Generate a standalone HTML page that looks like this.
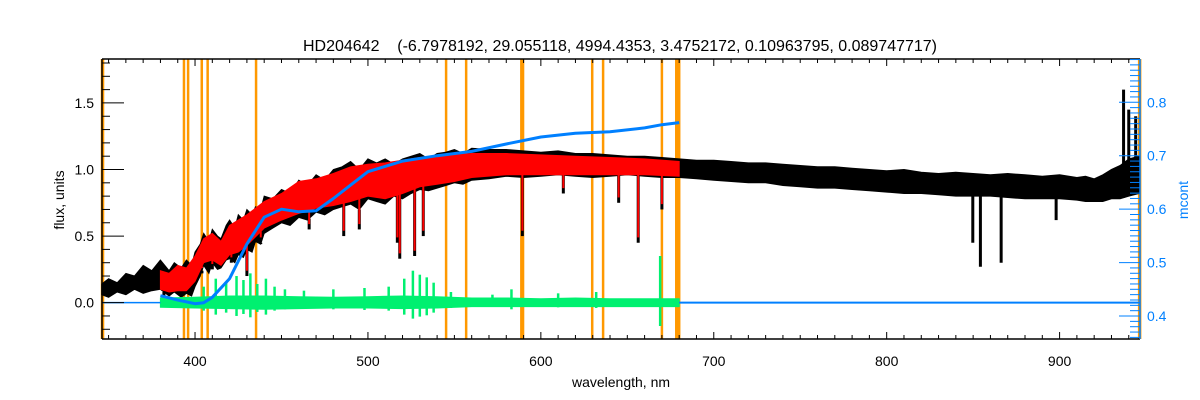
<!DOCTYPE html>
<html><head><meta charset="utf-8"><style>
html,body{margin:0;padding:0;background:#fff;}
svg{display:block;font-family:"Liberation Sans",sans-serif;}
</style></head><body>
<svg id="chart" width="1200" height="400" viewBox="0 0 1200 400"></svg>
<script>
// ---- data ----
const obsWave  = [346,350,355,360,365,370,375,380,385,388,392,395,398,400,403,405,408,410,413,415,418,420,423,425,428,430,433,435,438,440,445,450,455,460,465,470,475,480,485,490,495,500,505,510,515,520,525,530,535,540,545,550,555,560,570,580,590,600,610,620,630,640,650,660,670,680,690,700,710,720,730,740,750,760,770,780,790,800,810,820,830,840,850,860,870,880,890,900,910,915,920,925,930,935,940,946];
const obsLow   = [0.06,0.04,0.08,0.06,0.10,0.07,0.09,0.10,0.05,0.08,0.04,0.07,0.05,0.12,0.20,0.28,0.22,0.30,0.25,0.26,0.32,0.33,0.30,0.36,0.34,0.40,0.38,0.46,0.44,0.52,0.56,0.60,0.58,0.64,0.62,0.68,0.66,0.70,0.72,0.74,0.70,0.78,0.76,0.74,0.80,0.78,0.82,0.85,0.84,0.86,0.88,0.90,0.89,0.92,0.93,0.95,0.94,0.95,0.96,0.95,0.94,0.95,0.96,0.95,0.94,0.94,0.93,0.92,0.91,0.90,0.90,0.88,0.87,0.86,0.86,0.85,0.84,0.83,0.82,0.82,0.81,0.80,0.80,0.80,0.79,0.78,0.78,0.78,0.77,0.76,0.76,0.76,0.78,0.78,0.80,0.82];
const obsHigh  = [0.14,0.18,0.15,0.22,0.20,0.28,0.24,0.32,0.24,0.30,0.26,0.32,0.28,0.38,0.44,0.52,0.46,0.55,0.50,0.48,0.58,0.62,0.56,0.66,0.62,0.70,0.66,0.72,0.70,0.80,0.78,0.85,0.82,0.92,0.88,0.96,0.92,1.00,1.02,1.06,1.00,1.08,1.05,1.08,1.04,1.08,1.10,1.12,1.08,1.12,1.13,1.15,1.12,1.16,1.15,1.15,1.14,1.13,1.14,1.12,1.12,1.11,1.10,1.10,1.09,1.08,1.07,1.07,1.06,1.05,1.05,1.04,1.03,1.02,1.02,1.01,1.00,0.99,1.00,0.98,0.97,0.98,0.97,0.96,0.97,0.96,0.95,0.96,0.94,0.95,0.93,0.96,1.00,1.03,1.08,1.10];
const lineWave = [382,393.4,396.8,404,410,421,430,438,466,486,495,517,518.4,527,532,589.3,613,645,656.3,670,849.8,854.2,866.2,898,937,940,944];
const lineFlux = [0.05,0.08,0.08,0.22,0.25,0.3,0.2,0.45,0.55,0.5,0.55,0.45,0.33,0.35,0.5,0.5,0.82,0.75,0.45,0.7,0.45,0.27,0.3,0.62,1.60,1.45,1.40];
const modWave  = [380,385,390,395,400,405,410,415,420,425,430,440,450,460,470,480,490,500,510,520,530,540,550,560,580,600,620,640,660,680];
const modLow   = [0.10,0.08,0.09,0.09,0.16,0.30,0.32,0.28,0.36,0.38,0.43,0.56,0.62,0.67,0.71,0.73,0.76,0.80,0.78,0.82,0.87,0.89,0.91,0.94,0.96,0.96,0.96,0.96,0.96,0.95];
const modHigh  = [0.24,0.22,0.28,0.26,0.35,0.48,0.52,0.46,0.58,0.62,0.66,0.76,0.82,0.91,0.93,0.97,1.02,1.04,1.05,1.07,1.09,1.10,1.11,1.12,1.12,1.11,1.10,1.09,1.08,1.06];
const resWave  = [380,400,420,440,460,480,500,520,540,560,580,600,620,640,660,680];
const resHigh  = [0.035,0.04,0.05,0.05,0.045,0.04,0.045,0.05,0.045,0.035,0.035,0.03,0.035,0.03,0.03,0.03];
const resLow   = [-0.035,-0.04,-0.045,-0.05,-0.045,-0.04,-0.04,-0.045,-0.04,-0.03,-0.03,-0.03,-0.03,-0.03,-0.03,-0.03];
const spikeWave= [405,412,418,424,428,432,436,441,446,452,463,480,498,512,521,526,530,534,538,548,572,583,610,632,669];
const spikeVal = [0.12,0.18,0.15,0.20,0.17,0.22,0.14,0.18,0.12,0.10,0.09,0.10,0.11,0.12,0.18,0.24,0.21,0.19,0.15,0.08,0.06,0.10,0.07,0.08,0.35];
const contWave = [380,390,400,405,410,420,430,440,450,460,470,480,490,500,520,540,560,580,600,620,640,660,670,680];
const contVal  = [0.438,0.430,0.423,0.425,0.435,0.470,0.535,0.585,0.600,0.595,0.597,0.620,0.645,0.670,0.690,0.700,0.708,0.722,0.735,0.742,0.745,0.752,0.758,0.762];
const maskWave = [346.5,393.6,396.0,403.9,407.3,435.3,545.2,556.8,589.0,589.7,629.7,636.0,670.0,678.6,680.0,946.3];
const xTicks   = [400,500,600,700,800,900];
const yTicks   = [0.0,0.5,1.0,1.5];
const y2Ticks  = [0.4,0.5,0.6,0.7,0.8];
// ---- scales ----
const L=102,R=1140,T=59,B=339;
const X=w=>L+(w-346.2)/(946.5-346.2)*(R-L);
const Y=f=>B-(f+0.273)/(1.83+0.273)*(B-T);
const Y2=v=>B-(v-0.357)/(0.881-0.357)*(B-T);
const svg=document.getElementById('chart');
const NS='http://www.w3.org/2000/svg';
function mk(tag,attrs,parent){const e=document.createElementNS(NS,tag);for(const k in attrs)e.setAttribute(k,attrs[k]);(parent||svg).appendChild(e);return e;}
function interp(xs,ys,x){if(x<=xs[0])return ys[0];for(let i=1;i<xs.length;i++){if(x<=xs[i]){const t=(x-xs[i-1])/(xs[i]-xs[i-1]);return ys[i-1]+t*(ys[i]-ys[i-1]);}}return ys[ys.length-1];}
function band(ws,lo,hi,color,name,Yf){
  let d='M'+ws.map((w,i)=>X(w).toFixed(1)+','+Yf(hi[i]).toFixed(1)).join('L');
  for(let i=ws.length-1;i>=0;i--)d+='L'+X(ws[i]).toFixed(1)+','+Yf(lo[i]).toFixed(1);
  const p=mk('path',{d:d+'Z',fill:color,stroke:color,'stroke-width':1});
  
  
  return p;
}
// mask regions (orange)
maskWave.forEach((w,i)=>{
  const l=mk('line',{x1:X(w),x2:X(w),y1:T,y2:B,stroke:'#ff9900','stroke-width':(i==0||i==15||i==8||i==13)?3.5:2.5});
  
  
});
// observed
band(obsWave,obsLow,obsHigh,'#000','observed-spectrum',Y);
lineWave.forEach((w,i)=>{
  const base=interp(obsWave,obsLow,w),top=interp(obsWave,obsHigh,w);
  const f=lineFlux[i];
  const l=mk('line',{x1:X(w),x2:X(w),y1:Y(f>top?f:base),y2:Y(f>top?base:f),stroke:'#000','stroke-width':3});
  
  
});
// model
band(modWave,modLow,modHigh,'#ff0000','model-spectrum',Y);
lineWave.forEach((w,i)=>{
  if(w<380||w>680)return;
  const base=interp(modWave,modLow,w);
  const l=mk('line',{x1:X(w),x2:X(w),y1:Y(base),y2:Y(Math.max(lineFlux[i],0.05)+0.04),stroke:'#ff0000','stroke-width':2});
  
  
});
// residual
band(resWave,resLow,resHigh,'#00f070','residuals',Y);
spikeWave.forEach((w,i)=>{
  const l=mk('line',{x1:X(w),x2:X(w),y1:Y(-spikeVal[i]*0.5),y2:Y(spikeVal[i]),stroke:'#00f070','stroke-width':2.5});
  
  
});
// zero/baseline blue thin lines
const z1=mk('line',{x1:L,x2:X(380),y1:Y(0),y2:Y(0),stroke:'#0080ff','stroke-width':1.5});


const z2=mk('line',{x1:X(680),x2:R,y1:Y(0),y2:Y(0),stroke:'#0080ff','stroke-width':2});


// continuum
const cp=mk('path',{d:'M'+contWave.map((w,i)=>X(w).toFixed(1)+','+Y2(contVal[i]).toFixed(1)).join('L'),fill:'none',stroke:'#0080ff','stroke-width':3,'stroke-linejoin':'round'});


// axes frame
const fr=mk('path',{d:`M${L},${T}H${R}M${L},${B}H${R}M${L},${T}V${B}`,stroke:'#000','stroke-width':1.5,fill:'none'});


const rb=mk('line',{x1:R,x2:R,y1:T,y2:B,stroke:'#0080ff','stroke-width':1.5});


// x ticks
for(let w=350;w<=940;w+=10){
  const maj=w%100==0,len=maj?7:4;
  mk('path',{d:`M${X(w)},${B}v${-len}M${X(w)},${T}v${len}`,stroke:'#000','stroke-width':1});
}
xTicks.forEach(w=>{
  const t=mk('text',{x:X(w),y:B+27,'text-anchor':'middle','font-size':14,fill:'#000'});
  t.textContent=w;
  
  
});
// y ticks
for(let k=-2;k<=18;k++){const f=k/10;const maj=k%5==0;mk('line',{x1:L,x2:L+(maj?22:8),y1:Y(f),y2:Y(f),stroke:'#000','stroke-width':1});}
yTicks.forEach(f=>{
  const t=mk('text',{x:L-8,y:Y(f)+5,'text-anchor':'end','font-size':14,fill:'#000'});
  t.textContent=f.toFixed(1);
  
  
});
// y2 ticks
for(let k=36;k<=88;k++){const v=k/100;const maj=k%10==0;mk('line',{x1:R,x2:R-(maj?21:10),y1:Y2(v),y2:Y2(v),stroke:'#0080ff','stroke-width':1});}
y2Ticks.forEach(v=>{
  const t=mk('text',{x:R+7,y:Y2(v)+5,'font-size':14,fill:'#0080ff'});
  t.textContent=v.toFixed(1);
  
  
});
// labels
const tt=mk('text',{x:620,y:51,'text-anchor':'middle','font-size':16,fill:'#000',style:'white-space:pre'});
tt.textContent='HD204642    (-6.7978192, 29.055118, 4994.4353, 3.4752172, 0.10963795, 0.089747717)';


const xl=mk('text',{x:621,y:387,'text-anchor':'middle','font-size':14,fill:'#000'});
xl.textContent='wavelength, nm';


const yl=mk('text',{x:0,y:0,'text-anchor':'middle','font-size':14,fill:'#000',transform:'translate(64,200) rotate(-90)'});
yl.textContent='flux, units';


const y2l=mk('text',{x:0,y:0,'text-anchor':'middle','font-size':14,fill:'#0080ff',transform:'translate(1188,200) rotate(-90)'});
y2l.textContent='mcont';


</script>
</body></html>
